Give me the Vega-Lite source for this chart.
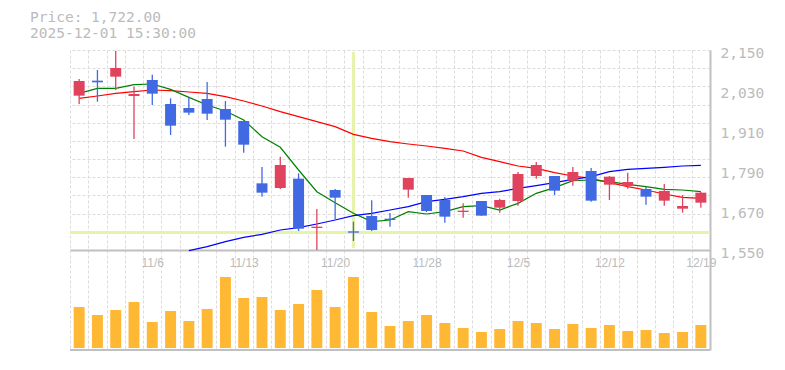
{
  "$schema": "https://vega.github.io/schema/vega-lite/v6.json",
  "width": 640,
  "height": 300,
  "autosize": "none",
  "padding": {"left": 70, "top": 50, "right": 75, "bottom": 20},
  "background": "white",
  "config": {"view": {"stroke": null}},
  "title": {
    "text": ["Price: 1,722.00", "2025-12-01 15:30:00"],
    "anchor": "start",
    "frame": "group",
    "orient": "top",
    "dx": -40,
    "offset": 4,
    "font": "DejaVu Sans Mono",
    "fontSize": 14.5,
    "fontWeight": "normal",
    "color": "#bbbbbb",
    "lineHeight": 16
  },
  "data": {
    "values": [
      {"d": "10/30", "o": 2013, "h": 2063, "l": 1988, "c": 2057, "vol": 41000, "ma5": 2020, "ma25": 2005, "ma75": null},
      {"d": "10/31", "o": 2058, "h": 2090, "l": 1995, "c": 2053, "vol": 33000, "ma5": 2035, "ma25": 2012, "ma75": null},
      {"d": "11/4", "o": 2070, "h": 2147, "l": 2030, "c": 2096, "vol": 38000, "ma5": 2035, "ma25": 2020, "ma75": null},
      {"d": "11/5", "o": 2012, "h": 2040, "l": 1883, "c": 2018, "vol": 46000, "ma5": 2046, "ma25": 2025, "ma75": null},
      {"d": "11/6", "o": 2060, "h": 2076, "l": 1985, "c": 2019, "vol": 26000, "ma5": 2048, "ma25": 2030, "ma75": null},
      {"d": "11/7", "o": 1988, "h": 2005, "l": 1895, "c": 1923, "vol": 37000, "ma5": 2032, "ma25": 2028, "ma75": null},
      {"d": "11/10", "o": 1976, "h": 2010, "l": 1955, "c": 1962, "vol": 27000, "ma5": 2008, "ma25": 2024, "ma75": 1548},
      {"d": "11/11", "o": 2003, "h": 2054, "l": 1940, "c": 1959, "vol": 39000, "ma5": 1985, "ma25": 2020, "ma75": 1560},
      {"d": "11/12", "o": 1973, "h": 1997, "l": 1860, "c": 1941, "vol": 71000, "ma5": 1967, "ma25": 2010, "ma75": 1575},
      {"d": "11/13", "o": 1937, "h": 1937, "l": 1842, "c": 1866, "vol": 50000, "ma5": 1940, "ma25": 1997, "ma75": 1588},
      {"d": "11/14", "o": 1750, "h": 1799, "l": 1710, "c": 1722, "vol": 51000, "ma5": 1890, "ma25": 1982, "ma75": 1597},
      {"d": "11/17", "o": 1736, "h": 1830, "l": 1733, "c": 1805, "vol": 38000, "ma5": 1858, "ma25": 1965, "ma75": 1610},
      {"d": "11/18", "o": 1764, "h": 1780, "l": 1607, "c": 1614, "vol": 44000, "ma5": 1790, "ma25": 1950, "ma75": 1617},
      {"d": "11/19", "o": 1616, "h": 1673, "l": 1550, "c": 1620, "vol": 58000, "ma5": 1725, "ma25": 1935, "ma75": 1628},
      {"d": "11/20", "o": 1730, "h": 1733, "l": 1643, "c": 1707, "vol": 41000, "ma5": 1692, "ma25": 1920, "ma75": 1640},
      {"d": "11/21", "o": 1606, "h": 1635, "l": 1577, "c": 1602, "vol": 71000, "ma5": 1660, "ma25": 1897, "ma75": 1653},
      {"d": "11/25", "o": 1652, "h": 1699, "l": 1607, "c": 1610, "vol": 36000, "ma5": 1635, "ma25": 1885, "ma75": 1660},
      {"d": "11/26", "o": 1644, "h": 1661, "l": 1620, "c": 1640, "vol": 22000, "ma5": 1640, "ma25": 1875, "ma75": 1670},
      {"d": "11/27", "o": 1731, "h": 1766, "l": 1707, "c": 1766, "vol": 27000, "ma5": 1665, "ma25": 1868, "ma75": 1680},
      {"d": "11/28", "o": 1715, "h": 1715, "l": 1664, "c": 1667, "vol": 33000, "ma5": 1658, "ma25": 1862, "ma75": 1695},
      {"d": "12/1", "o": 1700, "h": 1709, "l": 1632, "c": 1650, "vol": 25000, "ma5": 1665, "ma25": 1855, "ma75": 1702},
      {"d": "12/2", "o": 1664, "h": 1690, "l": 1647, "c": 1668, "vol": 20000, "ma5": 1680, "ma25": 1847, "ma75": 1710},
      {"d": "12/3", "o": 1697, "h": 1697, "l": 1653, "c": 1653, "vol": 16000, "ma5": 1683, "ma25": 1828, "ma75": 1720},
      {"d": "12/4", "o": 1677, "h": 1704, "l": 1662, "c": 1700, "vol": 19000, "ma5": 1670, "ma25": 1815, "ma75": 1725},
      {"d": "12/5", "o": 1697, "h": 1784, "l": 1683, "c": 1778, "vol": 27000, "ma5": 1690, "ma25": 1802, "ma75": 1735},
      {"d": "12/8", "o": 1772, "h": 1814, "l": 1764, "c": 1805, "vol": 25000, "ma5": 1720, "ma25": 1795, "ma75": 1743},
      {"d": "12/9", "o": 1772, "h": 1772, "l": 1715, "c": 1728, "vol": 19000, "ma5": 1737, "ma25": 1782, "ma75": 1752},
      {"d": "12/10", "o": 1758, "h": 1799, "l": 1743, "c": 1784, "vol": 24000, "ma5": 1758, "ma25": 1772, "ma75": 1762},
      {"d": "12/11", "o": 1787, "h": 1796, "l": 1695, "c": 1698, "vol": 20000, "ma5": 1760, "ma25": 1765, "ma75": 1770},
      {"d": "12/12", "o": 1746, "h": 1772, "l": 1700, "c": 1770, "vol": 23000, "ma5": 1755, "ma25": 1752, "ma75": 1785},
      {"d": "12/15", "o": 1742, "h": 1782, "l": 1734, "c": 1754, "vol": 17000, "ma5": 1747, "ma25": 1740, "ma75": 1792},
      {"d": "12/16", "o": 1733, "h": 1740, "l": 1686, "c": 1710, "vol": 18000, "ma5": 1740, "ma25": 1730, "ma75": 1795},
      {"d": "12/17", "o": 1698, "h": 1748, "l": 1683, "c": 1727, "vol": 15000, "ma5": 1732, "ma25": 1718, "ma75": 1798},
      {"d": "12/18", "o": 1674, "h": 1715, "l": 1662, "c": 1682, "vol": 16000, "ma5": 1730, "ma25": 1708, "ma75": 1802},
      {"d": "12/19", "o": 1692, "h": 1724, "l": 1677, "c": 1722, "vol": 23000, "ma5": 1725, "ma25": 1705, "ma75": 1804}
    ]
  },
  "layer": [
    {
      "mark": {"type": "bar", "color": "#ffb833", "width": {"band": 0.6}},
      "encoding": {
        "x": {
          "field": "d", "type": "ordinal", "sort": null,
          "scale": {"domain": ["10/30","10/31","11/4","11/5","11/6","11/7","11/10","11/11","11/12","11/13","11/14","11/17","11/18","11/19","11/20","11/21","11/25","11/26","11/27","11/28","12/1","12/2","12/3","12/4","12/5","12/8","12/9","12/10","12/11","12/12","12/15","12/16","12/17","12/18","12/19"], "paddingInner": 0, "paddingOuter": 0},
          "axis": {
            "orient": "bottom", "offset": -100, "tickBand": "extent", "ticks": false,
            "grid": true, "gridDash": [3, 2], "gridColor": "#dcdcdc", "gridWidth": 1,
            "domain": true, "domainColor": "#c0c0c0", "domainWidth": 2,
            "labelAngle": 0, "labelFont": "Liberation Sans", "labelFontSize": 12, "labelColor": "#bbbbbb",
            "labelPadding": 7, "labelFlush": false, "labelOverlap": false, "title": null,
            "labelExpr": "indexof(['11/6','11/13','11/20','11/28','12/5','12/12','12/19'], datum.value) >= 0 ? datum.value : ''"
          }
        },
        "y": {"field": "vol", "type": "quantitative", "scale": {"domain": [-2000, 298000], "nice": false, "zero": false}, "axis": null}
      }
    },
    {
      "data": {"values": [{}]},
      "mark": {"type": "rule", "color": "#c0c0c0", "strokeWidth": 2},
      "encoding": {
        "y": {"datum": 0, "type": "quantitative", "scale": {"domain": [0, 300000], "nice": false, "zero": false}, "axis": null}
      }
    },
    {
      "data": {"values": [{}]},
      "mark": {"type": "rule", "color": "#e6f4aa", "strokeWidth": 3},
      "encoding": {
        "y": {
          "datum": 1602.5, "type": "quantitative",
          "scale": {"domain": [1250, 2150], "nice": false, "zero": false},
          "axis": {
            "orient": "right", "labels": false, "ticks": false, "domain": false, "title": null,
            "grid": true, "gridDash": [3, 2], "gridColor": "#dcdcdc", "gridWidth": 1,
            "values": [2150, 2095.45, 2040.91, 1986.36, 1931.82, 1877.27, 1822.73, 1768.18, 1713.64, 1659.09, 1604.55, 1550]
          }
        }
      }
    },
    {
      "transform": [{"filter": "datum.d === '11/21'"}],
      "mark": {"type": "rule", "color": "#e6f4aa", "strokeWidth": 3},
      "encoding": {
        "x": {"field": "d", "type": "ordinal", "sort": null},
        "y": {"datum": 2144, "type": "quantitative", "scale": {"domain": [1250, 2150], "nice": false, "zero": false}, "axis": null},
        "y2": {"datum": 1556}
      }
    },
    {
      "mark": {"type": "line", "color": "#ff0000", "strokeWidth": 1.2},
      "encoding": {
        "x": {"field": "d", "type": "ordinal", "sort": null},
        "y": {"field": "ma25", "type": "quantitative", "scale": {"domain": [1250, 2150], "nice": false, "zero": false}, "axis": null}
      }
    },
    {
      "mark": {"type": "line", "color": "#008000", "strokeWidth": 1.2},
      "encoding": {
        "x": {"field": "d", "type": "ordinal", "sort": null},
        "y": {"field": "ma5", "type": "quantitative", "scale": {"domain": [1250, 2150], "nice": false, "zero": false}, "axis": null}
      }
    },
    {
      "mark": {"type": "line", "color": "#0000ff", "strokeWidth": 1.2},
      "encoding": {
        "x": {"field": "d", "type": "ordinal", "sort": null},
        "y": {"field": "ma75", "type": "quantitative", "scale": {"domain": [1250, 2150], "nice": false, "zero": false}, "axis": null}
      }
    },
    {
      "mark": {"type": "rule", "strokeWidth": 1.3},
      "encoding": {
        "x": {"field": "d", "type": "ordinal", "sort": null},
        "y": {
          "field": "l", "type": "quantitative",
          "scale": {"domain": [1250, 2150], "nice": false, "zero": false},
          "axis": {
            "orient": "right", "values": [2150, 2030, 1910, 1790, 1670, 1550], "format": ",d",
            "labelFont": "DejaVu Sans Mono", "labelFontSize": 14.5, "labelColor": "#bbbbbb",
            "labelPadding": 10, "labelOffset": 3, "labelFlush": false, "labelBaseline": "middle",
            "ticks": false, "grid": false, "domain": true, "domainColor": "#c0c0c0", "domainWidth": 2, "title": null
          }
        },
        "y2": {"field": "h"},
        "color": {"condition": {"test": "datum.c > datum.o", "value": "#e0435e"}, "value": "#4169e1"}
      }
    },
    {
      "mark": {"type": "bar", "width": {"band": 0.6}},
      "encoding": {
        "x": {"field": "d", "type": "ordinal", "sort": null},
        "y": {"field": "o", "type": "quantitative", "scale": {"domain": [1250, 2150], "nice": false, "zero": false}, "axis": null},
        "y2": {"field": "c"},
        "color": {"condition": {"test": "datum.c > datum.o", "value": "#e0435e"}, "value": "#4169e1"}
      }
    }
  ],
  "resolve": {"scale": {"y": "independent"}, "axis": {"y": "independent"}}
}
